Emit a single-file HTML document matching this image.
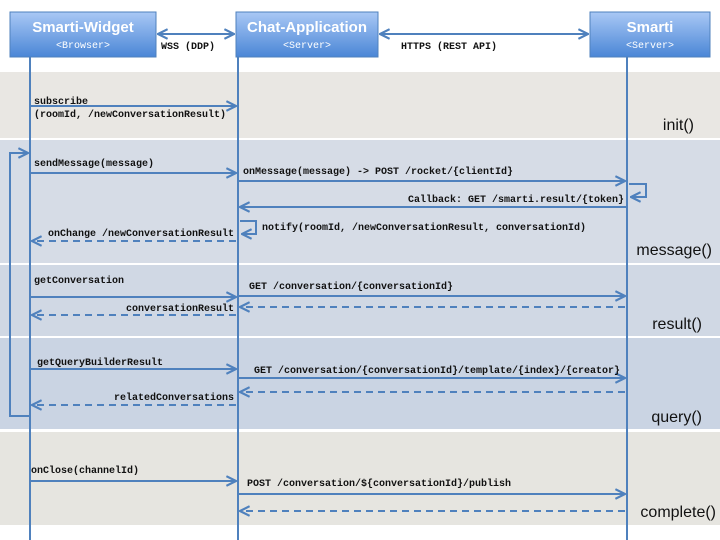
<!DOCTYPE html>
<html><head><style>body{margin:0;background:#fff}svg{display:block}</style></head><body>
<svg width="720" height="540" viewBox="0 0 720 540" xmlns="http://www.w3.org/2000/svg">
<defs>
<linearGradient id="g" x1="0" y1="0" x2="0" y2="1"><stop offset="0" stop-color="#a9c8f5"/><stop offset="1" stop-color="#4a86d6"/></linearGradient>
<marker id="a" viewBox="0 0 10 10" refX="9" refY="5" markerWidth="6" markerHeight="6" orient="auto-start-reverse"><path d="M1,1 L9,5 L1,9" fill="none" stroke="#4f81bd" stroke-width="1.8"/></marker>
</defs>
<rect x="0" y="72" width="720" height="66" fill="#e9e7e3"/>
<rect x="0" y="140" width="720" height="123" fill="#d6dce6"/>
<rect x="0" y="265" width="720" height="71" fill="#d0d8e4"/>
<rect x="0" y="338" width="720" height="91" fill="#cad4e3"/>
<rect x="0" y="432" width="720" height="93" fill="#e6e5e0"/>
<g stroke="#4f81bd" stroke-width="2" fill="none">
<line x1="30" y1="57" x2="30" y2="540"/><line x1="238" y1="57" x2="238" y2="540"/><line x1="627" y1="57" x2="627" y2="540"/>
</g>
<g stroke="#4f81bd" stroke-width="1">
<rect x="10" y="12" width="146" height="45" fill="url(#g)"/>
<rect x="236" y="12" width="142" height="45" fill="url(#g)"/>
<rect x="590" y="12" width="120" height="45" fill="url(#g)"/>
</g>
<g font-family="Liberation Sans, sans-serif" font-weight="bold" font-size="15" fill="#fff" text-anchor="middle">
<text x="83" y="32">Smarti-Widget</text><text x="307" y="32">Chat-Application</text><text x="650" y="32">Smarti</text>
</g>
<g font-family="Liberation Mono, monospace" font-size="10" fill="#fff" text-anchor="middle">
<text x="83" y="48">&lt;Browser&gt;</text><text x="307" y="48">&lt;Server&gt;</text><text x="650" y="48">&lt;Server&gt;</text>
</g>
<g stroke="#4f81bd" stroke-width="2" fill="none" marker-end="url(#a)">
<line x1="158" y1="34" x2="234" y2="34" marker-start="url(#a)"/>
<line x1="380" y1="34" x2="588" y2="34" marker-start="url(#a)"/>
<line x1="30" y1="106" x2="236" y2="106"/>
<polyline points="30,416 10,416 10,153 28,153"/>
<line x1="30" y1="173" x2="236" y2="173"/>
<line x1="238" y1="181" x2="625" y2="181"/>
<polyline points="629,184 646,184 646,197 631,197"/>
<line x1="627" y1="207" x2="240" y2="207"/>
<polyline points="240,221 256,221 256,234 242,234"/>
<line x1="30" y1="297" x2="236" y2="297"/>
<line x1="238" y1="296" x2="625" y2="296"/>
<line x1="30" y1="369" x2="236" y2="369"/>
<line x1="238" y1="378" x2="625" y2="378"/>
<line x1="30" y1="481" x2="236" y2="481"/>
<line x1="238" y1="494" x2="625" y2="494"/>
</g>
<g stroke="#4f81bd" stroke-width="2" fill="none" stroke-dasharray="7,5" marker-end="url(#a)">
<line x1="236" y1="241" x2="32" y2="241"/>
<line x1="625" y1="307" x2="240" y2="307"/>
<line x1="236" y1="315" x2="32" y2="315"/>
<line x1="625" y1="392" x2="240" y2="392"/>
<line x1="236" y1="405" x2="32" y2="405"/>
<line x1="625" y1="511" x2="240" y2="511"/>
</g>
<g font-family="Liberation Mono, monospace" font-size="10" font-weight="bold" fill="#111">
<text x="161" y="49">WSS (DDP)</text>
<text x="401" y="49">HTTPS (REST API)</text>
<text x="34" y="104">subscribe</text>
<text x="34" y="117">(roomId, /newConversationResult)</text>
<text x="34" y="166">sendMessage(message)</text>
<text x="243" y="174">onMessage(message) -&gt; POST /rocket/{clientId}</text>
<text x="624" y="202" text-anchor="end">Callback: GET /smarti.result/{token}</text>
<text x="262" y="230">notify(roomId, /newConversationResult, conversationId)</text>
<text x="234" y="236" text-anchor="end">onChange /newConversationResult</text>
<text x="34" y="283">getConversation</text>
<text x="249" y="289">GET /conversation/{conversationId}</text>
<text x="234" y="311" text-anchor="end">conversationResult</text>
<text x="37" y="365">getQueryBuilderResult</text>
<text x="254" y="373">GET /conversation/{conversationId}/template/{index}/{creator}</text>
<text x="234" y="400" text-anchor="end">relatedConversations</text>
<text x="31" y="473">onClose(channelId)</text>
<text x="247" y="486">POST /conversation/${conversationId}/publish</text>
</g>
<g font-family="Liberation Sans, sans-serif" font-size="16" fill="#111" text-anchor="end">
<text x="694" y="130">init()</text>
<text x="712" y="255">message()</text>
<text x="702" y="329">result()</text>
<text x="702" y="422">query()</text>
<text x="716" y="517">complete()</text>
</g>
</svg>
</body></html>
